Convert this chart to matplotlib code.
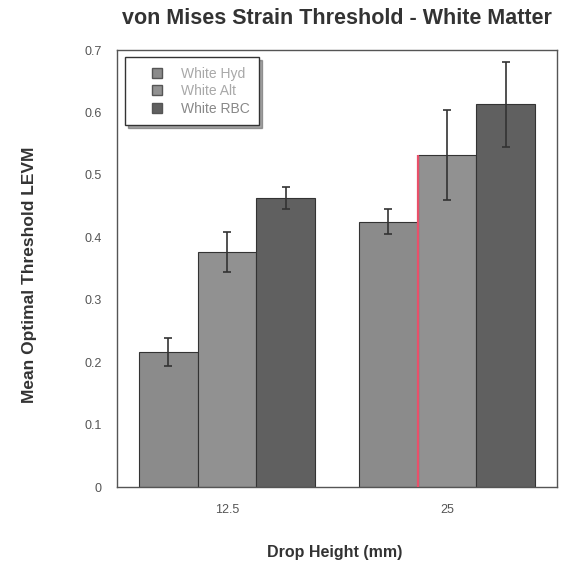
import numpy as np
import matplotlib.pyplot as plt
from matplotlib.lines import Line2D

# data
heights = ["12.5", "25"]
series = ["White Hyd", "White Alt", "White RBC"]
hyd = [0.216, 0.425]
alt = [0.377, 0.532]
rbc = [0.463, 0.613]
hyd_err = [0.022, 0.020]
alt_err = [0.032, 0.072]
rbc_err = [0.017, 0.068]

values = [hyd, alt, rbc]
errors = [hyd_err, alt_err, rbc_err]
colors = ["#8b8b8b", "#919191", "#606060"]

plt.rcParams['font.family'] = ['Liberation Sans', 'DejaVu Sans']

fig = plt.figure(figsize=(5.61, 5.65), dpi=100)
ax = fig.add_axes([0.2086, 0.138, 0.7843, 0.7735])

x = np.arange(len(heights))
w = 0.8 / 3
bar_sets = []
for i, (vals, errs) in enumerate(zip(values, errors)):
    bars = ax.bar(x + (i - 1) * w, vals, w, color=colors[i], edgecolor="#333333",
                  linewidth=0.8, yerr=errs, capsize=3,
                  error_kw=dict(ecolor="#333333", elinewidth=1.2, capthick=1.2))
    bar_sets.append(bars)

# red streak on the left edge of the second "White Alt" bar (scan artefact)
p = bar_sets[1][1]
ax.plot([p.get_x(), p.get_x()], [0, p.get_height()], color="#e8506a", lw=1.6,
        solid_capstyle="butt", zorder=3)

ax.set_xlim(-0.5, 1.5)
ax.set_ylim(0, 0.7)
ax.set_xticks(x)
ax.set_xticklabels(heights)
ax.set_yticks(np.arange(0, 0.71, 0.1))
ax.set_yticklabels(["0", "0.1", "0.2", "0.3", "0.4", "0.5", "0.6", "0.7"])
ax.tick_params(axis="both", length=0, labelsize=9, colors="#555555", pad=11)
ax.tick_params(axis="x", pad=12)
for s in ax.spines.values():
    s.set_color("#555555")
    s.set_linewidth(1.0)

ax.set_xlabel("Drop Height (mm)", fontsize=11.5, fontweight="bold", color="#333333")
ax.xaxis.set_label_coords(0.495, -0.133)
ax.set_ylabel("Mean Optimal Threshold LEVM", fontsize=12.5, fontweight="bold", color="#333333")
ax.yaxis.set_label_coords(-0.182, 0.485)
fig.text(0.6, 0.968, "von Mises Strain Threshold - White Matter", ha="center", va="center",
         fontsize=15.5, fontweight="bold", color="#333333")

handles = [Line2D([], [], marker="s", linestyle="none", markersize=7,
                  markerfacecolor=c, markeredgecolor="#555555") for c in colors]
leg = ax.legend(handles, series, loc="upper left", bbox_to_anchor=(0.018, 0.984),
                fontsize=10, frameon=True, fancybox=False, shadow=True,
                handlelength=3.2, borderpad=0.7, labelspacing=0.25,
                handletextpad=0.1, borderaxespad=0)
leg.get_frame().set_edgecolor("#333333")
leg.get_frame().set_linewidth(1.0)
for t, c in zip(leg.get_texts(), ["#a8a8a8", "#a8a8a8", "#888888"]):
    t.set_color(c)

fig.savefig("out.png", dpi=100)
